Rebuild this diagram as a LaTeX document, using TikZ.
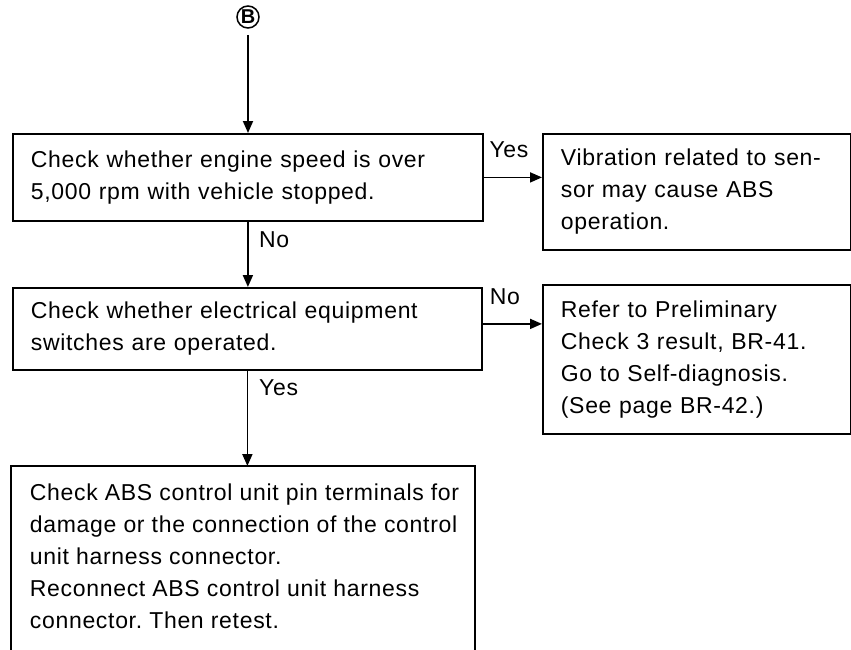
\documentclass[tikz,border=0pt]{standalone}
\usepackage{fontspec}
\setmainfont[LetterSpace=3]{Liberation Sans}
\usepackage{tikz}
\usetikzlibrary{arrows.meta, positioning, calc}
\frenchspacing
\tikzset{
    % Box styles - plain black frames, text set flush left
    checkbox/.style={
        rectangle,
        draw=black,
        line width=1.8pt,
        anchor=north west,
        inner xsep=18pt,
        inner ysep=6pt,
        align=left,
        font=\fontsize{23}{32}\selectfont
    },
    % Answer labels beside the arrows
    answer/.style={
        font=\fontsize{23}{28}\selectfont,
        inner sep=0pt
    },
    % Arrow style - straight lines only
    arrow/.style={
        -{Triangle[length=12pt,width=10pt]},
        line width=1.8pt,
        draw=black
    }
}

\begin{document}
\begin{tikzpicture}[x=1pt, y=-1pt]
    \useasboundingbox (0,0) rectangle (851,649);
    \clip (0,0) rectangle (851,649);

    \node[circle, draw, line width=1.5pt, inner sep=0pt, minimum size=22pt,
          font=\bfseries\fontsize{20}{20}\selectfont] (entry) at (248,17) {B};

    \node[checkbox, text width=434pt, minimum height=87pt] (engine) at (12,133)
        {Check whether engine speed is over\\5,000 rpm with vehicle stopped.};
    \node[checkbox, text width=272pt, minimum height=116pt] (vibration) at (542,133)
        {Vibration related to sen-\\sor may cause ABS\\operation.};

    \node[checkbox, text width=433pt, minimum height=82pt] (switches) at (12,287)
        {Check whether electrical equipment\\switches are operated.};
    \node[checkbox, text width=272pt, minimum height=149pt] (prelim) at (542,284)
        {Refer to Preliminary\\Check 3 result, BR-41.\\Go to Self-diagnosis.\\(See page BR-42.)};

    % last box runs off the bottom of the page, so only three sides
    \node[checkbox, draw=none, inner ysep=17pt] (pins) at (11,466)
        {Check ABS control unit pin terminals for\\damage or the connection of the control\\unit harness connector.\\Reconnect ABS control unit harness\\connector. Then retest.};
    \draw[line width=1.8pt] (pins.north west) ++(0,220) -- (pins.north west)
        -- ++(464,0) -- ++(0,220);

    \draw[arrow, shorten <=6pt] (entry) -- (entry |- engine.north);
    \draw[arrow] (engine.south) -- (engine.south |- switches.north);
    \draw[arrow] (switches.south) -- (switches.south |- pins.north);
    \draw[arrow] (engine.east) -- (engine.east -| vibration.west);
    \draw[arrow] ([yshift=5pt]switches.east) -- ([yshift=5pt]switches.east -| prelim.west);

    \node[answer, anchor=west] (noA) at (259,240) {No};
    \node[answer] (yesA) at (509,150) {Yes};
    \node[answer] (noB) at (505,297) {No};
    \node[answer, anchor=west] (yesB) at (259,388) {Yes};
\end{tikzpicture}
\end{document}
